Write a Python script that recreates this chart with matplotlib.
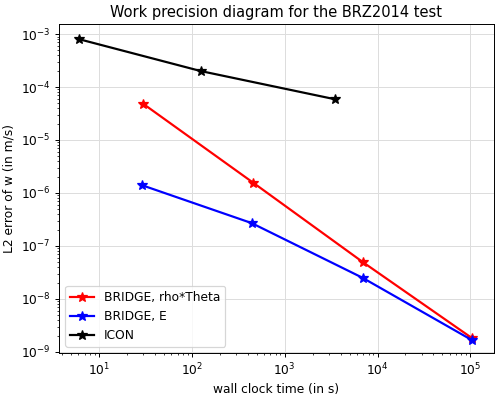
import matplotlib
matplotlib.use("Agg")
import matplotlib.pyplot as plt

bridge_rt_time = [30, 460, 7000, 1.05e5]
bridge_rt_err = [4.8e-5, 1.55e-6, 4.9e-8, 1.8e-9]
bridge_e_time = [29, 440, 6900, 1.05e5]
bridge_e_err = [1.4e-6, 2.7e-7, 2.5e-8, 1.65e-9]
icon_time = [6.1, 125, 3450]
icon_err = [8.0e-4, 2.0e-4, 5.9e-5]

dpi = 88
fig, ax = plt.subplots(figsize=(500 / dpi, 398 / dpi), dpi=dpi)
ax.loglog(bridge_rt_time, bridge_rt_err, 'r*-', label='BRIDGE, rho*Theta', markersize=8, linewidth=1.8)
ax.loglog(bridge_e_time, bridge_e_err, 'b*-', label='BRIDGE, E', markersize=8, linewidth=1.8)
ax.loglog(icon_time, icon_err, 'k*-', label='ICON', markersize=8, linewidth=1.8)
ax.set_xlim(3.7, 1.8e5)
ax.set_ylim(9.5e-10, 1.55e-3)
ax.grid(True, color='#dddddd', linewidth=0.8)
ax.set_title('Work precision diagram for the BRZ2014 test')
ax.set_xlabel('wall clock time (in s)')
ax.set_ylabel('L2 error of w (in m/s)')
ax.legend(loc='lower left')
fig.subplots_adjust(left=59 / 500, right=494 / 500, top=1 - 24 / 398, bottom=1 - 353 / 398)
fig.savefig('out.png', dpi=dpi)
